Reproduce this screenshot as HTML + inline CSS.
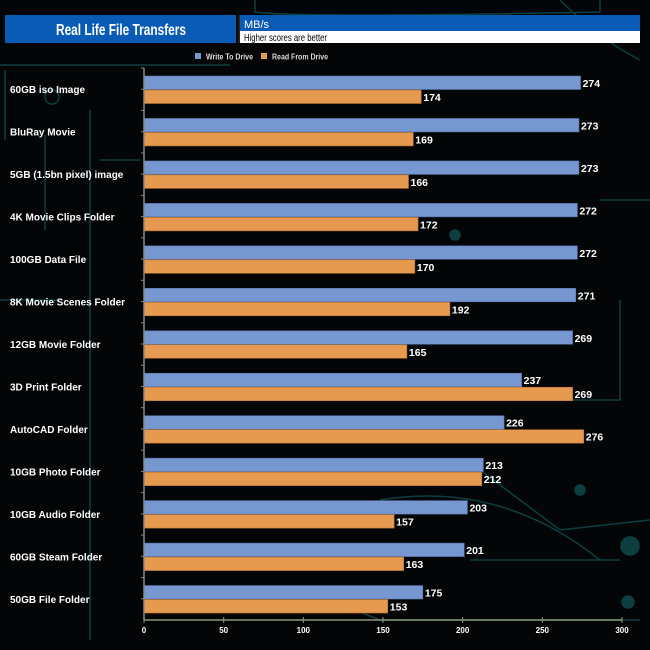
<!DOCTYPE html>
<html><head><meta charset="utf-8"><style>
body{margin:0;background:#000;}
#c{position:relative;width:650px;height:650px;background:#030506;overflow:hidden;font-family:"Liberation Sans",Arial,sans-serif;}
text{font-family:"Liberation Sans",Arial,sans-serif;}
</style></head><body>
<div id="c">
<svg id="s" width="650" height="650" xmlns="http://www.w3.org/2000/svg">
<g stroke="#0d3f40" stroke-width="1.5" fill="none">
<path d="M0 65 H230 M255 0 V12 Q300 18 600 12 V0 M560 0 Q600 40 640 60 M5 70 V140 M45 135 V230 M90 110 V640 M100 160 H140 M0 300 H60 M380 500 Q500 480 600 560 M480 470 L560 530 L650 520 M330 600 L380 620 H640 M500 400 H620 V300 M600 200 H650 M470 560 H620"/>
<circle cx="630" cy="546" r="9" fill="#0d3f40"/><circle cx="628" cy="602" r="6" fill="#0d3f40"/><circle cx="580" cy="490" r="5" fill="#0d3f40"/><circle cx="52" cy="97" r="7"/><circle cx="455" cy="235" r="5" fill="#0d3f40"/>
</g>
<rect x="5" y="15" width="231" height="28" fill="#0a5bb5"/>
<text x="56" y="35" textLength="130" lengthAdjust="spacingAndGlyphs" fill="#fff" font-size="16" font-weight="bold">Real Life File Transfers</text>
<rect x="238" y="15" width="2" height="28" fill="#222"/>
<rect x="240" y="15" width="400" height="16" fill="#0a5bb5"/>
<text x="244" y="28" fill="#fff" font-size="11">MB/s</text>
<rect x="240" y="31" width="400" height="12" fill="#fff"/>
<text x="244" y="41" textLength="83" lengthAdjust="spacingAndGlyphs" fill="#000" font-size="10">Higher scores are better</text>
<rect x="195" y="53" width="6" height="6" fill="#7797d0"/>
<text x="206" y="59.5" textLength="47" lengthAdjust="spacingAndGlyphs" fill="#ddd" font-size="8" font-weight="bold">Write To  Drive</text>
<rect x="261" y="53" width="6" height="6" fill="#e59a50"/>
<text x="272" y="59.5" textLength="56" lengthAdjust="spacingAndGlyphs" fill="#ddd" font-size="8" font-weight="bold">Read From  Drive</text>
<g id="plot"></g>
</svg>
</div>
<script>
const categories=["60GB iso Image","BluRay Movie","5GB (1.5bn pixel) image","4K Movie Clips Folder","100GB Data File","8K Movie Scenes Folder","12GB Movie Folder","3D Print Folder","AutoCAD Folder","10GB Photo Folder","10GB Audio Folder","60GB Steam Folder","50GB File Folder"];
const writeVals=[274,273,273,272,272,271,269,237,226,213,203,201,175];
const readVals=[174,169,166,172,170,192,165,269,276,212,157,163,153];
const ticks=[0,50,100,150,200,250,300];
const NS="http://www.w3.org/2000/svg";
const g=document.getElementById('plot');
const X0=144,X1=622,MAX=300,TOP=68,BOT=620;
const band=(BOT-TOP)/categories.length;
const xs=v=>X0+v/MAX*(X1-X0);
const ys=i=>TOP+i*band;
function mk(t,a){const e=document.createElementNS(NS,t);for(const k in a)e.setAttribute(k,a[k]);g.appendChild(e);return e;}
categories.forEach((c,i)=>{
 const y=ys(i);
 let l=mk('text',{x:10,y:y+band/2+4,fill:'#fff','font-size':10,'font-weight':'bold'});l.textContent=c;
 
 
 let w=mk('rect',{x:X0,y:y+8,width:xs(writeVals[i])-X0,height:13.5,fill:'#7797d0',stroke:'#5670a8','stroke-width':0.6});
 
 
 let r=mk('rect',{x:X0,y:y+22,width:xs(readVals[i])-X0,height:13.5,fill:'#e59a50',stroke:'#b5702c','stroke-width':0.6});
 
 
 let wt=mk('text',{x:xs(writeVals[i])+2,y:y+19,fill:'#fff','font-size':10.5,'font-weight':'bold'});wt.textContent=writeVals[i];
 
 
 let rt=mk('text',{x:xs(readVals[i])+2,y:y+33,fill:'#fff','font-size':10.5,'font-weight':'bold'});rt.textContent=readVals[i];
 
 
 mk('line',{x1:X0-3,x2:X0,y1:y,y2:y,stroke:'#888'});
 mk('line',{x1:X0-3,x2:X0,y1:y+band/2,y2:y+band/2,stroke:'#888'});
});
let ya=mk('line',{x1:X0,x2:X0,y1:TOP,y2:BOT,stroke:'#888','stroke-width':1.5});


let xa=mk('line',{x1:X0,x2:X1,y1:BOT,y2:BOT,stroke:'#8a9a80','stroke-width':1.5});


ticks.forEach(t=>{
 mk('line',{x1:xs(t),x2:xs(t),y1:BOT-3,y2:BOT+3,stroke:'#8a9a80'});
 let tl=mk('text',{x:xs(t),y:BOT+13,fill:'#fff','font-size':8,'font-weight':'bold','text-anchor':'middle'});tl.textContent=t;
 
 
});
</script>
</body></html>
